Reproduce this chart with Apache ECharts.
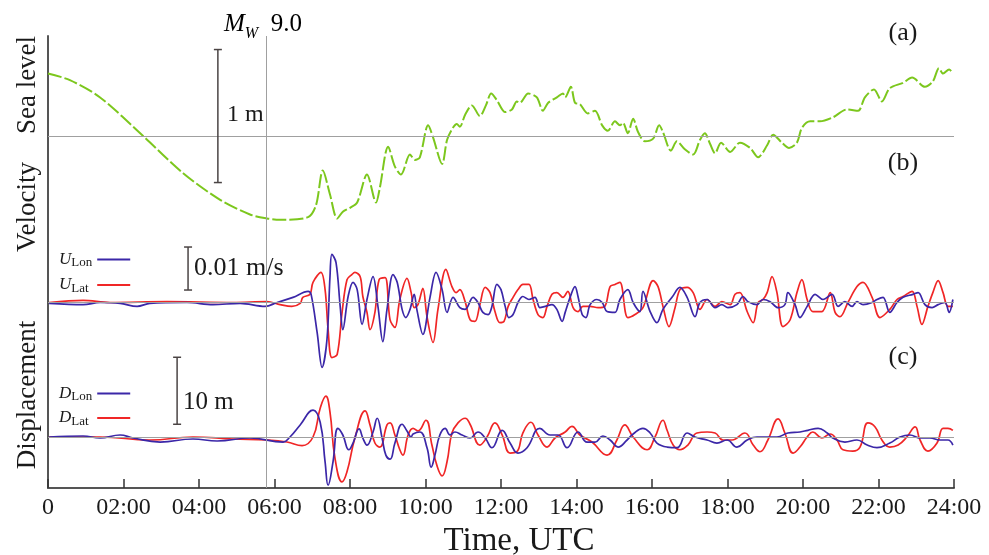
<!DOCTYPE html>
<html><head><meta charset="utf-8">
<script src="https://cdn.jsdelivr.net/npm/echarts@6/dist/echarts.min.js"></script>
<style>html,body{margin:0;padding:0;background:#fff}#c{width:989px;height:555px}</style>
</head><body><div id="c"></div>
<script>
// ---- data (time in hours UTC) ----
const quakeTime = 5.77;
const xTickStep = 2;

// (a) sea level, m
const seaTime = [0,0.58,1.38,2.52,3.58,4.56,5.35,5.80,6.15,6.89,7.10,7.28,7.47,7.66,7.81,8.0,8.19,8.45,8.69,8.79,9.01,9.19,9.35,9.59,9.72,9.85,10.07,10.20,10.44,10.57,10.70,10.83,10.91,11.05,11.23,11.44,11.60,11.74,11.89,12.11,12.29,12.42,12.50,12.72,12.95,13.11,13.25,13.48,13.64,13.70,13.85,13.96,14.09,14.30,14.49,14.68,14.83,15.02,15.15,15.23,15.36,15.50,15.63,15.81,16.03,16.19,16.29,16.50,16.66,16.87,17.09,17.27,17.40,17.54,17.67,17.83,18.07,18.33,18.60,18.81,19.05,19.21,19.44,19.63,19.84,19.97,20.19,20.45,20.79,21.17,21.46,21.64,21.88,22.09,22.30,22.65,22.89,23.23,23.44,23.60,23.71,23.87,23.97];
const seaLevel = [0.47,0.42,0.29,0,-0.28,-0.48,-0.59,-0.62,-0.63,-0.61,-0.52,-0.26,-0.44,-0.62,-0.57,-0.54,-0.50,-0.29,-0.50,-0.39,-0.08,-0.23,-0.29,-0.14,-0.18,-0.16,0.08,-0.01,-0.21,-0.03,0.05,0.09,0.07,0.16,0.23,0.15,0.23,0.32,0.27,0.18,0.20,0.26,0.25,0.32,0.29,0.19,0.25,0.29,0.32,0.29,0.37,0.25,0.24,0.17,0.19,0.08,0.04,0.11,0.08,0.10,0.02,0.13,0.03,-0.04,-0.02,0.08,0.03,-0.11,-0.04,-0.10,-0.14,-0.03,0.02,-0.06,-0.13,-0.05,-0.12,-0.05,-0.09,-0.16,-0.07,0.01,-0.05,-0.09,-0.05,0.06,0.11,0.11,0.14,0.20,0.19,0.29,0.35,0.26,0.36,0.40,0.44,0.37,0.41,0.51,0.47,0.50,0.47];

// (b) velocity, mm/s
const uLonTime = [0.03,0.93,1.38,1.91,2.36,2.70,3.68,4.37,5.09,5.75,6.07,6.49,6.89,6.97,7.13,7.26,7.39,7.47,7.52,7.63,7.74,7.81,7.95,8.08,8.19,8.32,8.45,8.61,8.74,8.87,8.98,9.14,9.25,9.38,9.48,9.59,9.70,9.77,9.93,10.12,10.28,10.44,10.57,10.73,10.91,11.05,11.26,11.39,11.52,11.66,11.76,11.89,12.00,12.11,12.21,12.32,12.45,12.58,12.74,12.90,13.03,13.17,13.35,13.48,13.62,13.70,13.83,13.96,14.04,14.15,14.25,14.36,14.54,14.68,14.81,15.02,15.15,15.36,15.50,15.68,15.76,15.95,16.13,16.29,16.53,16.74,16.93,17.14,17.27,17.46,17.67,17.85,18.01,18.25,18.41,18.54,18.78,18.94,19.13,19.34,19.52,19.60,19.79,19.92,20.11,20.32,20.53,20.77,20.93,21.11,21.30,21.43,21.59,21.83,21.96,22.12,22.30,22.49,22.65,22.91,23.05,23.23,23.42,23.58,23.76,23.87,23.97];
const uLonValue = [-0.2,-0.5,0,-0.2,-0.9,-0.2,0,-0.5,-0.2,-0.9,0,1.2,2.6,1.9,-7.0,-15.1,-8.6,6.0,11.2,9.3,-0.9,-6.3,1.4,4.7,3.0,-5.1,0.7,6.0,-0.9,-9.1,-1.6,6.5,4.7,-1.6,-3.5,-1.6,1.9,-1.6,-7.4,1.2,7.0,3.0,-2.3,1.2,-1.2,-1.6,1.2,0,-2.3,-2.8,-0.9,4.2,3.0,-0.9,-3.5,-2.8,0,1.4,0.7,1.2,-1.2,-0.9,-0.5,-1.6,-4.4,-2.3,1.2,3.7,1.4,-2.8,-3.5,-0.5,0.7,0,-2.1,-2.3,0.7,3.0,0,-2.1,2.6,-2.1,-4.7,-1.6,1.2,3.5,1.2,-3.3,0,0.7,-1.2,-0.5,-1.2,-0.5,1.4,0.2,-0.5,0.7,0.2,-1.2,-0.5,2.3,-0.5,-3.5,-0.9,1.9,0.7,1.9,-0.9,0.2,-0.9,0.2,-0.5,0,0.7,1.2,-2.3,0,1.2,1.9,2.3,-0.5,-1.2,-0.5,0,-2.3,0.7];
const uLatTime = [0.03,0.93,1.64,3.15,4.90,5.80,6.15,6.46,6.68,6.75,6.94,7.02,7.23,7.34,7.42,7.52,7.66,7.79,7.92,8.05,8.13,8.27,8.34,8.45,8.53,8.66,8.77,8.93,9.06,9.19,9.32,9.51,9.62,9.70,9.80,9.93,10.04,10.20,10.33,10.54,10.70,10.81,10.91,11.05,11.18,11.31,11.44,11.58,11.71,11.84,11.97,12.08,12.19,12.32,12.45,12.58,12.74,12.85,12.98,13.11,13.22,13.35,13.48,13.64,13.77,13.91,14.04,14.17,14.36,14.57,14.75,14.89,15.02,15.15,15.36,15.55,15.76,16.03,16.16,16.29,16.45,16.61,16.74,16.93,17.09,17.27,17.46,17.67,17.85,18.07,18.20,18.33,18.52,18.68,18.81,18.94,19.05,19.18,19.31,19.47,19.66,19.84,19.97,20.11,20.26,20.50,20.72,20.85,20.98,21.19,21.43,21.59,21.83,22.04,22.30,22.49,22.65,22.89,23.02,23.15,23.31,23.44,23.58,23.71,23.84,23.97];
const uLatValue = [0,0.5,0,0.2,0,0.2,-0.5,-0.9,-0.2,1.2,1.9,4.7,7.0,3.0,-6.3,-12.8,-12.1,-2.3,5.3,6.5,7.0,6.0,1.4,-2.3,-6.3,-2.3,5.3,5.8,-4.0,-5.8,0.7,5.6,2.3,-1.2,-0.5,3.3,-3.3,-9.3,-1.6,7.7,3.7,2.3,3.0,0.2,-4.0,-4.4,-0.5,3.5,2.3,-2.1,-4.7,-4.4,-0.9,1.2,3.0,4.2,4.2,0.7,-2.8,-3.5,-0.9,1.9,2.3,1.2,2.6,-1.2,-2.1,-0.9,-0.9,-1.2,-0.9,3.7,4.2,4.7,-3.5,-2.8,-1.2,5.1,3.7,-0.9,-5.6,-1.2,3.0,3.5,2.3,-1.6,0.7,-0.9,0.2,-0.5,1.9,2.3,-2.1,-4.7,0,0.7,2.3,6.0,2.3,-5.6,-4.0,2.3,5.3,0.7,-2.1,-2.1,2.3,-2.3,-3.3,0,3.7,4.7,1.2,-3.5,-1.6,0.7,1.4,2.6,-0.9,-5.1,-0.9,2.3,5.1,2.3,-0.9,-0.9];

// (c) displacement, m
const dLonTime = [0.03,0.93,1.38,1.91,2.25,2.97,3.84,4.48,5.35,6.23,6.41,6.68,7.02,7.21,7.34,7.42,7.55,7.68,7.81,7.97,8.08,8.24,8.34,8.45,8.61,8.72,8.85,8.95,9.06,9.19,9.38,9.51,9.62,9.67,9.85,10.04,10.15,10.25,10.38,10.52,10.65,10.78,10.97,11.18,11.39,11.58,11.76,12.03,12.24,12.45,12.69,13.03,13.30,13.51,13.75,14.04,14.28,14.49,14.70,14.89,15.10,15.34,15.50,15.76,15.95,16.13,16.40,16.66,16.93,17.14,17.46,17.72,17.99,18.25,18.52,18.78,19.05,19.31,19.60,19.92,20.13,20.40,20.64,20.79,21.11,21.43,21.70,21.96,22.30,22.57,22.83,23.10,23.36,23.63,23.84,23.97];
const dLonValue = [0,0.15,-0.15,0.3,-0.15,-0.75,-0.3,-0.6,-0.15,-0.75,0,1.8,4.0,2.2,-3.7,-7.2,-3.7,1.3,0.3,-1.9,-0.9,1.2,-0.15,-1.2,0.75,2.8,-0.15,-2.7,-3.3,-0.9,1.9,0.9,0,0.45,0.75,-1.6,-4.5,-2.7,0.3,1.3,0.3,0.75,0.3,-0.15,0.75,-0.15,-1.6,1.0,-0.9,-2.4,-1.6,1.3,0.3,0.3,-1.6,0.75,-0.75,-0.75,0.15,-0.45,-1.5,-0.45,0.45,1.3,0.6,-0.9,-1.5,-1.6,0.6,0,-0.45,-0.9,-0.45,-1.5,-0.45,0,0,0,0.6,0.75,1.0,1.3,0.6,-0.15,-0.75,-0.45,-1.2,-1.6,-0.9,0,0.3,-0.15,-0.15,-0.45,-0.45,-1.2];
const dLatTime = [0.03,1.38,2.70,3.84,4.90,5.80,6.33,6.73,7.02,7.21,7.36,7.47,7.60,7.79,7.92,8.13,8.40,8.53,8.66,8.79,8.98,9.06,9.19,9.32,9.40,9.54,9.67,9.80,10.01,10.17,10.30,10.44,10.57,10.70,10.86,11.05,11.18,11.44,11.63,11.84,12.03,12.24,12.42,12.58,12.79,12.98,13.22,13.43,13.70,13.88,14.09,14.41,14.81,15.07,15.28,15.50,15.87,16.08,16.29,16.40,16.56,16.74,16.95,17.19,17.46,17.67,17.88,18.12,18.46,18.68,18.86,19.07,19.34,19.52,19.74,19.92,20.11,20.26,20.50,20.72,20.90,21.06,21.32,21.51,21.72,21.91,22.09,22.30,22.52,22.75,22.97,23.10,23.31,23.55,23.71,23.84,23.97];
const dLatValue = [0,0,-0.45,0,-0.3,-0.45,-0.75,-1.3,0,4.3,6.1,3.7,-3.1,-6.7,-5.2,-0.15,3.9,1.8,-0.9,-1.5,1.8,2.1,0.3,-1.9,-2.7,0.3,1.3,0.9,2.5,-1.2,-4.2,-5.8,-3.7,0.6,2.1,2.8,1.9,-1.2,0,2.1,0.3,-2.4,-2.2,0.6,2.2,0.3,-1.5,-0.15,0.75,1.6,0.3,-0.75,-2.7,-0.45,1.8,0,-1.9,0,2.5,1.0,-1.2,-1.9,-1.2,0.6,0.75,0.6,-0.45,-0.45,0.6,-1.2,-2.2,-0.45,2.7,0.6,-2.4,-1.5,0,0.75,-0.15,0.45,-0.45,-1.9,-2.1,-1.5,2.1,1.5,-0.45,-1.5,-1.2,0,1.5,-0.45,-2.1,-0.9,1.3,1.3,1.0];

// scale bars: [time, low, high] in panel units
const seaBar = [4.5, -0.35, 0.65];   // 1 m
const velBar = [3.71, 2.9, 12.9];    // 10 mm/s = 0.01 m/s
const dispBar = [3.42, 1.9, 11.9];   // 10 m

// ---- chart ----
const SERIF = "'Liberation Serif','Times New Roman',serif";
const GREEN = '#7cc71d', BLUE = '#3b27a8', RED = '#f02626', GRAY = '#a0a0a0', INK = '#1a1a1a';
const zip = (t, v) => t.map((x, i) => [x, v[i]]);

function baseLine(extra) {
  return {
    silent: true, symbol: 'none', animation: false,
    label: { show: false },
    lineStyle: { color: GRAY, width: 1, type: 'solid' },
    emphasis: { disabled: true },
    data: [{ yAxis: 0 }].concat(extra || [])
  };
}
function scaleBarSeries(bar, yIdx, text, dx, dy, fontSize) {
  return {
    type: 'custom', yAxisIndex: yIdx, silent: true, animation: false, z: 5,
    data: [bar],
    renderItem: function (params, api) {
      const a = api.coord([api.value(0), api.value(1)]);
      const b = api.coord([api.value(0), api.value(2)]);
      const st = { stroke: '#4a4444', lineWidth: 1.5 };
      const cap = 4;
      return { type: 'group', children: [
        { type: 'line', shape: { x1: a[0], y1: a[1], x2: b[0], y2: b[1] }, style: st },
        { type: 'line', shape: { x1: a[0] - cap, y1: a[1], x2: a[0] + cap, y2: a[1] }, style: st },
        { type: 'line', shape: { x1: b[0] - cap, y1: b[1], x2: b[0] + cap, y2: b[1] }, style: st },
        { type: 'text', x: a[0] + dx, y: (a[1] + b[1]) / 2 + dy,
          style: { text: text, fill: INK, font: fontSize + 'px ' + SERIF, verticalAlign: 'middle', align: 'left' } }
      ]};
    }
  };
}
function lineSeries(name, data, color, yIdx, smooth, extra) {
  return Object.assign({
    type: 'line', name: name, data: data, yAxisIndex: yIdx,
    symbol: 'none', smooth: smooth, animation: false, silent: true,
    lineStyle: { color: color, width: 1.7 }, itemStyle: { color: color },
    emphasis: { disabled: true }
  }, extra || {});
}
const legendRich = {
  i: { fontFamily: SERIF, fontStyle: 'italic', fontSize: 17, lineHeight: 20, color: INK },
  s: { fontFamily: SERIF, fontSize: 13, lineHeight: 14, verticalAlign: 'bottom', color: INK },
  t: { fontFamily: SERIF, fontSize: 13, lineHeight: 14, verticalAlign: 'bottom', color: INK, padding: [0, 3.6, 0, 0] }
};
function legendFmt(name) {
  const p = name.split('_');
  return '{i|' + p[0] + '}{' + (p[1] === 'Lat' ? 't' : 's') + '|' + p[1] + '}';
}
function legendCfg(names, top, gap) {
  return { data: names, orient: 'vertical', left: 54, top: top, align: 'right',
    icon: 'rect', itemWidth: 33, itemHeight: 2, itemGap: gap, selectedMode: false,
    formatter: legendFmt,
    textStyle: { rich: legendRich } };
}

const GRID_TOP = 36, GRID_BOTTOM = 488, GRID_H = GRID_BOTTOM - GRID_TOP;
// pixel scale per unit: sea 133 px/m, velocity 4.3 px/(mm/s), displacement 6.7 px/m
function axisRange(baseY, pxPerUnit) {
  const min = -(GRID_BOTTOM - baseY) / pxPerUnit;
  return { min: min, max: min + GRID_H / pxPerUnit };
}
const rSea = axisRange(136, 133), rVel = axisRange(302.5, 4.3), rDisp = axisRange(437, 6.7);

const chart = echarts.init(document.getElementById('c'), null, { renderer: 'canvas' });
chart.setOption({
  animation: false,
  backgroundColor: '#fff',
  grid: { left: 48, right: 35, top: GRID_TOP, bottom: 555 - GRID_BOTTOM, containLabel: false },
  xAxis: {
    type: 'value', min: 0, max: 24, interval: xTickStep,
    axisLine: { onZero: false, lineStyle: { color: '#555', width: 2 } },
    axisTick: { inside: true, length: 9, lineStyle: { color: '#333', width: 1.5 } },
    axisLabel: { fontFamily: SERIF, fontSize: 24, color: INK, margin: 8,
      formatter: v => v === 0 ? '0' : (v < 10 ? '0' : '') + v + ':00' },
    splitLine: { show: false }
  },
  yAxis: [
    { type: 'value', min: rSea.min, max: rSea.max, position: 'left',
      axisLine: { show: true, lineStyle: { color: '#555', width: 2 } },
      axisTick: { show: false }, axisLabel: { show: false }, splitLine: { show: false } },
    { type: 'value', min: rVel.min, max: rVel.max, show: false, splitLine: { show: false } },
    { type: 'value', min: rDisp.min, max: rDisp.max, show: false, splitLine: { show: false } }
  ],
  legend: [ legendCfg(['U_Lon', 'U_Lat'], 246, 7), legendCfg(['D_Lon', 'D_Lat'], 380, 6) ],
  series: [
    lineSeries('Sea level', zip(seaTime, seaLevel), GREEN, 0, 0.3, {
      lineStyle: { color: GREEN, width: 2, type: [14, 3] },
      markLine: baseLine([{ xAxis: quakeTime }])
    }),
    lineSeries('U_Lat', zip(uLatTime, uLatValue), RED, 1, 0.35, { markLine: baseLine() }),
    lineSeries('U_Lon', zip(uLonTime, uLonValue), BLUE, 1, 0.35),
    lineSeries('D_Lat', zip(dLatTime, dLatValue), RED, 2, 0.45, { markLine: baseLine() }),
    lineSeries('D_Lon', zip(dLonTime, dLonValue), BLUE, 2, 0.45),
    scaleBarSeries(seaBar, 0, '1 m', 9, -1, 24),
    scaleBarSeries(velBar, 1, '0.01 m/s', 6, 0, 26),
    scaleBarSeries(dispBar, 2, '10 m', 6, 12, 25)
  ],
  graphic: [
    { type: 'text', left: 224, top: 12, silent: true,
      style: { text: '{m|M}{w|W}{n|  9.0}', rich: {
        m: { fontFamily: SERIF, fontStyle: 'italic', fontSize: 25, lineHeight: 34, color: INK },
        w: { fontFamily: SERIF, fontStyle: 'italic', fontSize: 16, lineHeight: 16, verticalAlign: 'bottom', color: INK },
        n: { fontFamily: SERIF, fontSize: 25, lineHeight: 34, color: INK } } } },
    { type: 'text', x: 519, y: 541, silent: true,
      style: { text: 'Time, UTC', font: '33px ' + SERIF, fill: INK, align: 'center', verticalAlign: 'middle' } },
    { type: 'text', x: 28, y: 85, rotation: Math.PI / 2, silent: true,
      style: { text: 'Sea level', font: '27px ' + SERIF, fill: INK, align: 'center', verticalAlign: 'middle' } },
    { type: 'text', x: 28, y: 207, rotation: Math.PI / 2, silent: true,
      style: { text: 'Velocity', font: '27px ' + SERIF, fill: INK, align: 'center', verticalAlign: 'middle' } },
    { type: 'text', x: 28, y: 395, rotation: Math.PI / 2, silent: true,
      style: { text: 'Displacement', font: '27px ' + SERIF, fill: INK, align: 'center', verticalAlign: 'middle' } },
    { type: 'text', x: 903, y: 33, silent: true,
      style: { text: '(a)', font: '26px ' + SERIF, fill: INK, align: 'center', verticalAlign: 'middle' } },
    { type: 'text', x: 903, y: 163, silent: true,
      style: { text: '(b)', font: '26px ' + SERIF, fill: INK, align: 'center', verticalAlign: 'middle' } },
    { type: 'text', x: 903, y: 357, silent: true,
      style: { text: '(c)', font: '26px ' + SERIF, fill: INK, align: 'center', verticalAlign: 'middle' } }
  ]
});
</script>
</body></html>
